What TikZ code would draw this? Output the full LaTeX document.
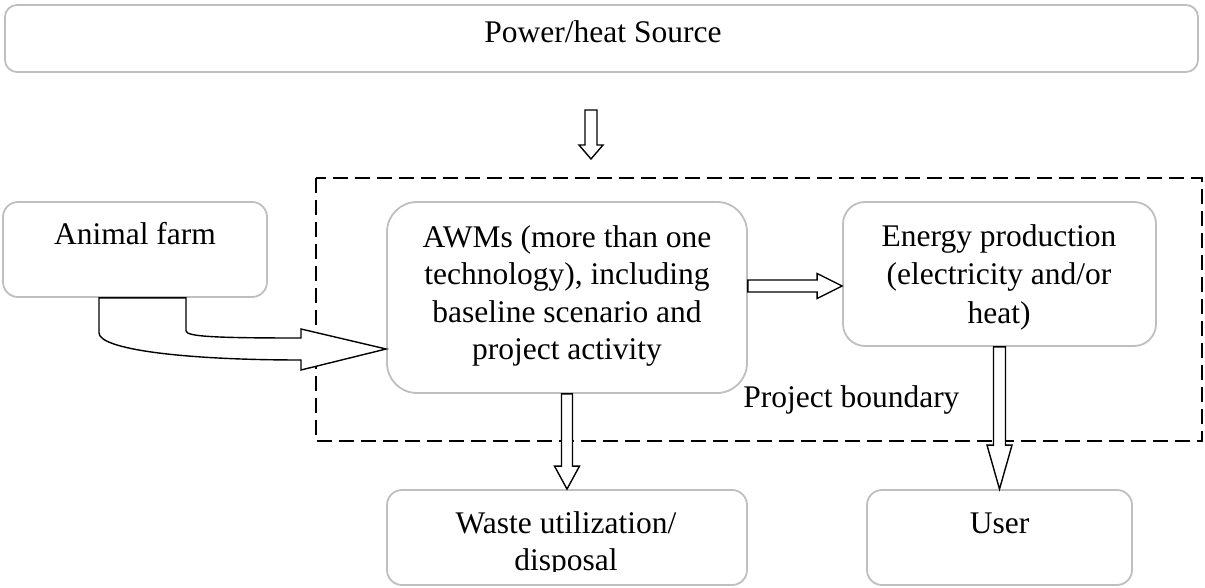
\documentclass[tikz,border=0pt]{standalone}
\usepackage{fontspec}
\setmainfont{Liberation Serif}
\usetikzlibrary{calc}
\definecolor{boxgray}{RGB}{191,191,191}
\tikzset{
  box/.style={draw=boxgray, line width=0.9pt, fill=white, inner sep=0pt, rectangle},
  label/.style={font=\fontsize{15.75}{18.5}\selectfont, inner sep=0pt, align=center},
  % block arrow between two points: shaft half-width, head half-width, head length
  blockarrow/.style n args={3}{draw=black, fill=white, line width=0.7pt, line join=miter,
    to path={
      ($(\tikztostart)!#1!90:(\tikztotarget)$) --
      ($(\tikztotarget)!#3!(\tikztostart)!#1!-90:(\tikztostart)$) --
      ($(\tikztotarget)!#3!(\tikztostart)!#2!-90:(\tikztostart)$) --
      (\tikztotarget) --
      ($(\tikztotarget)!#3!(\tikztostart)!#2!90:(\tikztostart)$) --
      ($(\tikztotarget)!#3!(\tikztostart)!#1!90:(\tikztostart)$) --
      ($(\tikztostart)!#1!-90:(\tikztotarget)$) -- cycle
    }},
  boundary/.style={draw=black, line width=1pt, dash pattern=on 7.5pt off 3.5pt}
}
\begin{document}
\begin{tikzpicture}[x=0.5pt, y=-0.5pt]
\useasboundingbox (0,0) rectangle (1205,588);

% project boundary
\draw[boundary] (316,178) rectangle (1202,441);

% boxes
\node[box, rounded corners=6pt, minimum width=596.5pt, minimum height=33.5pt] (src) at (601.5,38.5) {};
\node[box, rounded corners=7.5pt, minimum width=132pt, minimum height=47.5pt] (farm) at (135,249.5) {};
\node[box, rounded corners=15pt, minimum width=180pt, minimum height=95.5pt] (awm) at (567,297.5) {};
\node[box, rounded corners=11pt, minimum width=156.5pt, minimum height=72pt] (energy) at (999.5,274) {};
\node[box, rounded corners=7.5pt, minimum width=180pt, minimum height=47.5pt] (waste) at (567,537.5) {};
\node[box, rounded corners=7.5pt, minimum width=132.5pt, minimum height=47.5pt] (user) at (999.5,537.5) {};

% texts
\node[label, anchor=base] (t-src) at (603,43) {Power/heat Source};
\node[label, anchor=base] (t-farm) at (135,245) {Animal farm};
\node[label, anchor=base] (t-awm1) at (567,248) {AWMs (more than one};
\node[label, anchor=base] (t-awm2) at (567,285) {technology), including};
\node[label, anchor=base] (t-awm3) at (567,322) {baseline scenario and};
\node[label, anchor=base] (t-awm4) at (567,359) {project activity};
\node[label, anchor=base] (t-en1) at (999,247) {Energy production};
\node[label, anchor=base] (t-en2) at (999,285) {(electricity and/or};
\node[label, anchor=base] (t-en3) at (999,323) {heat)};
\begin{scope}
  \clip (387,490) rectangle (747,571);
  \node[label, anchor=base] (t-waste1) at (566,533) {Waste utilization/};
  \node[label, anchor=base] (t-waste2) at (566,570) {disposal};
\end{scope}
\node[label, anchor=base] (t-user) at (999.5,533) {User};
\node[label, anchor=base west] (t-bound) at (743,408) {Project boundary};

% connectors
\coordinate (pin) at (591,110);
\coordinate (pinend) at (591,159);
\draw[blockarrow={3pt}{6pt}{7pt}] (pin) to (pinend);

\coordinate (ae) at ([yshift=5.75pt]awm.east);
\coordinate (ew) at (ae -| energy.west);
\draw[blockarrow={3pt}{6.25pt}{12.5pt}] (ae) to (ew);

\draw[blockarrow={2.75pt}{6.25pt}{11.5pt}] (awm.south) to (waste.north);
\draw[blockarrow={3pt}{6.25pt}{22pt}] (energy.south) to (user.north);

% bent arrow from the farm into the AWMs box
\coordinate (fo) at ([xshift=-18pt]farm.south);
\coordinate (fi) at ([xshift=25.5pt]farm.south);
\coordinate (tip) at ([yshift=-25.75pt]awm.west);
\draw[draw=black, fill=white, line width=0.7pt, line join=miter]
  (fo) -- ++(0,35) .. controls ++(0,16) and (180,360) .. (301,360)
  -- (301,370) -- (tip) -- (301,329) -- (301,338)
  .. controls (220,338) and ($(fi)+(0,39)$) .. ($(fi)+(0,33)$)
  -- (fi) -- cycle;
\end{tikzpicture}
\end{document}
